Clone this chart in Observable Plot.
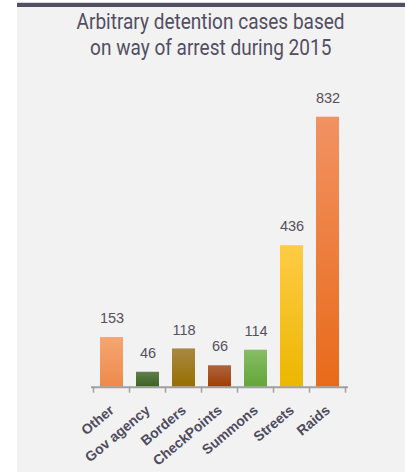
<!DOCTYPE html>
<html>
<head>
<meta charset="utf-8">
<script src="https://cdn.jsdelivr.net/npm/d3@7"></script>
<script src="https://cdn.jsdelivr.net/npm/@observablehq/plot@0.6"></script>
<style>
  html, body { margin: 0; padding: 0; background: #ffffff; overflow: hidden; width: 405px; height: 472px; }
  #panel {
    position: absolute; left: 17px; top: 3px; width: 388px; height: 465px;
    background: #f2f2f2; border-top: 4px solid #524e63;
    box-shadow: 0 -1px 0 #d8d8dc;
  }
  #title {
    height: 63px; box-sizing: border-box; padding-top: 1px;
    text-align: center; color: #524e63;
    font-family: Roboto, "Liberation Sans", sans-serif;
    font-size: 22.5px; line-height: 26px;
  }
  #title span { display: inline-block; transform: scaleX(0.845); transform-origin: center; white-space: nowrap; }
  #chart svg { display: block; background: transparent; }
</style>
</head>
<body>
<div id="panel">
  <div id="title"><span>Arbitrary detention cases based</span><br><span>on way of arrest during 2015</span></div>
  <div id="chart"></div>
</div>
<script>
const categories = ["Other", "Gov agency", "Borders", "CheckPoints", "Summons", "Streets", "Raids"];
const values = [153, 46, 118, 66, 114, 436, 832];

// styles (kept apart from the data)
const topColors    = ["#f5a672", "#5f7d4c", "#a98843", "#b0623f", "#86bd66", "#ffcb46", "#f29262"];
const bottomColors = ["#ee8a4a", "#3b6322", "#966f00", "#9f3f00", "#64a638", "#ebb700", "#e86a19"];

const data = categories.map((c, i) => ({category: c, value: values[i], idx: i}));

function gradientDefs() {
  const g = d3.create("svg:g");
  const defs = g.append("defs");
  categories.forEach((c, i) => {
    const lg = defs.append("linearGradient")
      .attr("id", "grad" + i).attr("x1", 0).attr("y1", 0).attr("x2", 0).attr("y2", 1);
    lg.append("stop").attr("offset", "0%").attr("stop-color", topColors[i]);
    lg.append("stop").attr("offset", "100%").attr("stop-color", bottomColors[i]);
  });
  return g.node();
}

function boundaryTicks(index, scales) {
  const x = scales.x, y = scales.y;
  const step = x.step(), bw = x.bandwidth();
  const half = (step - bw) / 2;
  const edges = categories.map(c => x(c) - half);
  edges.push(x(categories[categories.length - 1]) + bw + half);
  const y0 = y(0);
  const g = d3.create("svg:g").attr("stroke", "#a0a0a0").attr("stroke-width", 1.5);
  g.selectAll("line").data(edges).join("line")
    .attr("x1", d => d).attr("x2", d => d)
    .attr("y1", y0).attr("y2", y0 + 6);
  return g.node();
}

const chart = Plot.plot({
  width: 388,
  height: 402,
  marginLeft: 74,
  marginRight: 57,
  marginTop: 46.7,
  marginBottom: 85.3,
  style: {background: "transparent", overflow: "visible"},
  x: {domain: categories, paddingInner: 0.37, paddingOuter: 0.185, label: null},
  y: {domain: [0, 832], nice: false, axis: null},
  color: {type: "identity"},
  marks: [
    gradientDefs,
    Plot.barY(data, {x: "category", y: "value", fill: d => `url(#grad${d.idx})`}),
    Plot.ruleY([0], {stroke: "#a0a0a0", strokeWidth: 2}),
    boundaryTicks,
    Plot.text(data, {
      x: "category", y: "value", text: d => String(d.value), dy: -19,
      fill: "#555060", fontSize: 14.5, fontFamily: "Liberation Sans, Arial, sans-serif"
    }),
    Plot.axisX({
      tickSize: 0, tickPadding: 21, tickRotate: -40, label: null,
      fill: "#4f4b5e", fontSize: 14, fontWeight: "bold",
      fontFamily: "Liberation Sans, Arial, sans-serif"
    })
  ]
});
document.getElementById("chart").appendChild(chart);
</script>
</body>
</html>
